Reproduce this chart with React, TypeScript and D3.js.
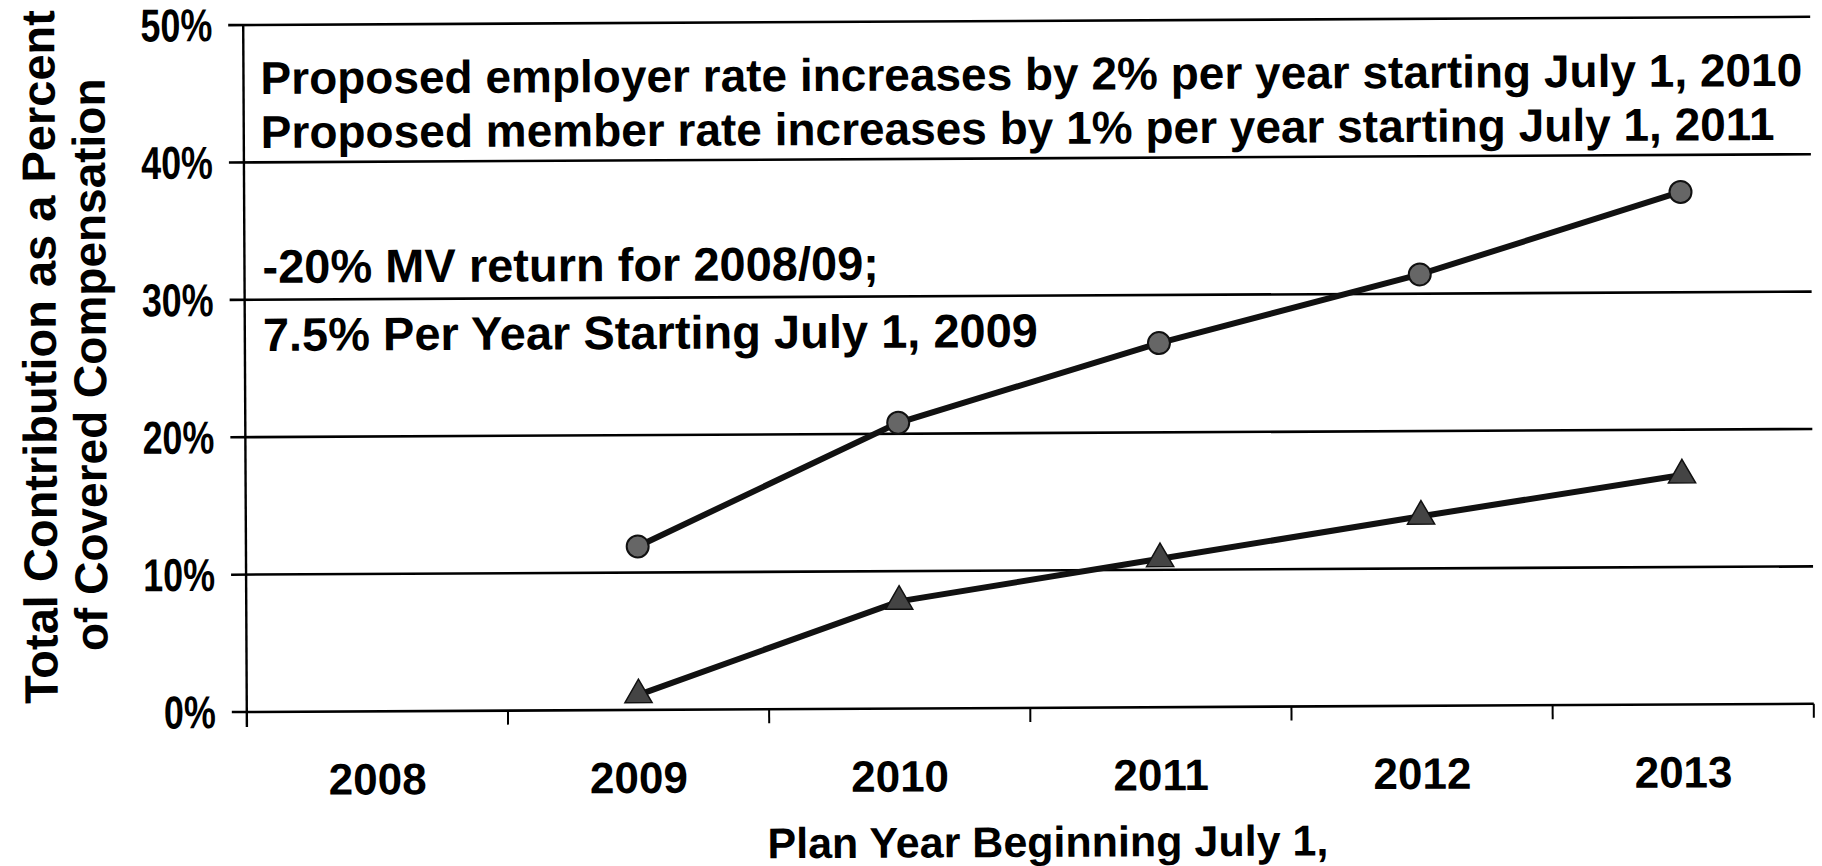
import * as d3 from 'd3'

const WIDTH = 1822
const HEIGHT = 866
const FONT = '"Liberation Sans", Arial, Helvetica, sans-serif'

const years = ['2008', '2009', '2010', '2011', '2012', '2013']
const seriesYears = ['2009', '2010', '2011', '2012', '2013']
const totalRate = [11.9, 20.8, 26.5, 31.4, 37.3]
const memberScenario = [1.1, 7.8, 10.8, 13.8, 16.7]
const yTicks = [0, 10, 20, 30, 40, 50]

const noteTop = [
  'Proposed employer rate increases by 2% per year starting July 1, 2010',
  'Proposed member rate increases by 1% per year starting July 1, 2011',
]
const noteMid = ['-20% MV return for 2008/09;', '7.5% Per Year Starting July 1, 2009']
const yTitle = ['Total Contribution as a Percent', 'of Covered Compensation']
const xTitle = 'Plan Year Beginning July 1,'

const LEFT = 245
const RIGHT = 1812
const TOP = 25
const BOTTOM = 712

type Pt = { year: string; value: number }

export default function App() {
  const x = d3.scaleBand<string>().domain(years).range([LEFT, RIGHT]).padding(0)
  const y = d3.scaleLinear().domain([0, 50]).range([BOTTOM, TOP])
  const cx = (yr: string) => (x(yr) ?? 0) + x.bandwidth() / 2

  const upper: Pt[] = seriesYears.map((yr, i) => ({ year: yr, value: totalRate[i] }))
  const lower: Pt[] = seriesYears.map((yr, i) => ({ year: yr, value: memberScenario[i] }))

  const line = d3
    .line<Pt>()
    .x((d) => cx(d.year))
    .y((d) => y(d.value))

  const triangle = d3.symbol().type(d3.symbolTriangle).size(320)()
  const boundaries = years.slice(1).map((yr) => x(yr) ?? 0).concat([RIGHT])

  return (
    <>
      <style>{'body{margin:0;background:#fff}'}</style>
      <svg width={WIDTH} height={HEIGHT} style={{ display: 'block', background: '#fff' }}>
        <g transform={`rotate(-0.3 ${LEFT} ${(TOP + BOTTOM) / 2})`} fontFamily={FONT} fontWeight="bold">
          {/* gridlines + y ticks */}
          {yTicks.map((t) => (
            <g key={t}>
              <line x1={LEFT - 15} x2={RIGHT} y1={y(t)} y2={y(t)} stroke="#000" strokeWidth={2.6} />
              <text
                transform={`translate(214,${y(t) + 16}) scale(0.78,1)`}
                fontSize={46}
                textAnchor="end"
                fill="#000"
              >
                {`${t}%`}
              </text>
            </g>
          ))}
          <line x1={LEFT} x2={LEFT} y1={TOP} y2={BOTTOM + 15} stroke="#000" strokeWidth={2.4} />
          {boundaries.map((bx, i) => (
            <line key={i} x1={bx} x2={bx} y1={BOTTOM} y2={BOTTOM + 14} stroke="#000" strokeWidth={2} />
          ))}
          {years.map((yr) => (
            <text key={yr} x={cx(yr)} y={795} fontSize={44} textAnchor="middle" fill="#000">
              {yr}
            </text>
          ))}

          {/* series */}
          <path d={line(upper) ?? ''} fill="none" stroke="#111" strokeWidth={6} />
          <path d={line(lower) ?? ''} fill="none" stroke="#111" strokeWidth={6} />
          {upper.map((d) => (
            <circle key={d.year} cx={cx(d.year)} cy={y(d.value)} r={11} fill="#666" stroke="#111" strokeWidth={2} />
          ))}
          {lower.map((d) => (
            <path
              key={d.year}
              d={triangle ?? ''}
              transform={`translate(${cx(d.year)},${y(d.value)})`}
              fill="#444"
              stroke="#111"
              strokeWidth={1.5}
            />
          ))}

          {/* notes */}
          {noteTop.map((s, i) => (
            <text key={s} x={262} y={94 + i * 54} fontSize={46} fill="#000">
              {s}
            </text>
          ))}
          {noteMid.map((s, i) => (
            <text key={s} x={263} y={283 + i * 68} fontSize={47} fill="#000">
              {s}
            </text>
          ))}

          {/* axis titles */}
          <text transform="translate(56,356) rotate(-90)" fontSize={47} textAnchor="middle" fill="#000">
            {yTitle[0]}
          </text>
          <text transform="translate(106,364) rotate(-90)" fontSize={46} textAnchor="middle" fill="#000">
            {yTitle[1]}
          </text>
          <text x={765} y={861} fontSize={43} fill="#000">
            {xTitle}
          </text>
        </g>
      </svg>
    </>
  )
}
